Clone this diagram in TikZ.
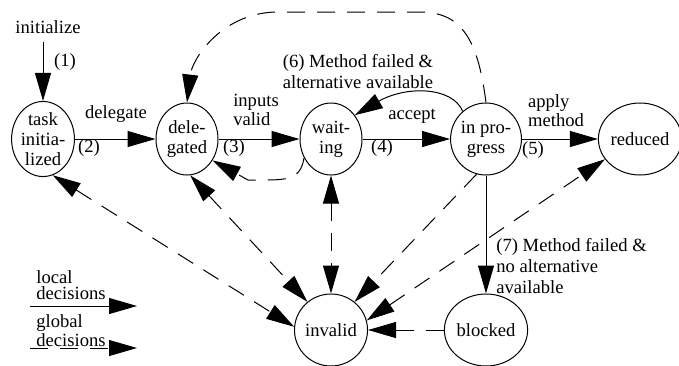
\documentclass[tikz,border=0pt]{standalone}
\usepackage{fontspec}
\setmainfont{Liberation Serif}
\usetikzlibrary{arrows.meta,shapes.geometric}
\tikzset{
  state/.style={draw, ellipse, line width=0.5pt, minimum width=31pt, minimum height=36pt,
    inner sep=0pt, align=center, font=\fontsize{9.3}{10}\selectfont},
  lbl/.style={inner sep=0pt, align=left, font=\fontsize{9.3}{10.5}\selectfont},
  tight/.style={inner sep=0pt, align=left, font=\fontsize{9.3}{8}\selectfont},
  loc/.style={-{Triangle[length=14pt,width=8pt]}, line width=0.5pt},
  glob/.style={loc, dash pattern=on 9pt off 6pt},
  both/.style={glob, {Triangle[length=14pt,width=8pt]}-{Triangle[length=14pt,width=8pt]}}
}
\begin{document}
\begin{tikzpicture}[x=0.5pt, y=-0.5pt]
  \useasboundingbox (0,0) rectangle (679,365);
  % states
  \node[state] (task) at (43,139) {task\\initia-\\lized};
  \node[state] (deleg) at (187,139) {dele-\\gated};
  \node[state] (wait) at (331,139) {wait-\\ing};
  \node[state] (prog) at (486,139) {in pro-\\gress};
  \node[state] (red) at (640,139) {reduced};
  \node[state] (inval) at (331,330) {invalid};
  \node[state] (block) at (486,330) {blocked};
  % labels
  \node[lbl] (initlbl) at (48,27) {initialize};
  \node[lbl] (l1) at (65,62) {(1)};
  \node[lbl] (ldeleg) at (116,114) {delegate};
  \node[lbl] (l2) at (89,148) {(2)};
  \node[tight] (linputs) at (256,110) {inputs\\valid};
  \node[lbl] (l3) at (234,148) {(3)};
  \node[lbl] (l6) at (358,72) {(6) Method failed \&\\alternative available};
  \node[lbl] (laccept) at (412,116) {accept};
  \node[lbl] (l4) at (382,148) {(4)};
  \node[tight] (lapply) at (556,111) {apply\\method};
  \node[lbl] (l5) at (533,150) {(5)};
  \node[lbl, anchor=north west] (l7) at (496,238) {(7) Method failed \&\\no alternative\\available};
  \node[tight] (llocal) at (71,285) {local\\decisions};
  \node[tight] (lglobal) at (71,331) {global\\decisions};
  \coordinate (init) at (43,42);
  \coordinate (locA) at (30,306);
  \coordinate (locB) at (137,306);
  \coordinate (globA) at (30,348);
  \coordinate (globB) at (137,348);
  % local decisions
  \draw[loc] (init) -- (task);
  \draw[loc] (task) -- (deleg);
  \draw[loc] (deleg) -- (wait);
  \draw[loc] (wait) -- (prog);
  \draw[loc] (prog) -- (red);
  \draw[loc] (prog) -- (block);
  \draw[loc] (prog.130) .. controls (452,86) and (405,86) .. (wait.45);
  \draw[loc] (locA) -- (locB);
  % global decisions
  \draw[glob] (prog.north) .. controls (478,40) and (462,12) .. (420,12) -- (275,12)
    .. controls (220,14) and (192,60) .. (deleg.north);
  \draw[glob] (wait.215) .. controls (300,182) and (285,180) .. (248,180) -- (deleg.-40);
  \draw[both] (task.-75) -- (inval.175);
  \draw[both] (deleg.-85) -- (inval.130);
  \draw[both] (wait.south) -- (inval.north);
  \draw[glob] (prog.-105) -- (inval.50);
  \draw[both] (inval.15) -- (red.-150);
  \draw[glob] (block) -- (inval);
  \draw[glob] (globA) -- (globB);
\end{tikzpicture}
\end{document}
